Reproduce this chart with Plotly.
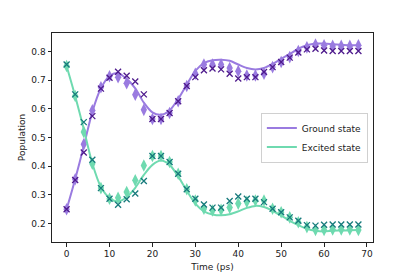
import plotly.graph_objects as go

time_ps = [0, 2, 4, 6, 8, 10, 12, 14, 16, 18, 20, 22, 24, 26, 28, 30, 32, 34,
           36, 38, 40, 42, 44, 46, 48, 50, 52, 54, 56, 58, 60, 62, 64, 66, 68]

ground_line = [0.25, 0.355, 0.47, 0.59, 0.672, 0.715, 0.725, 0.705, 0.672, 0.622, 0.588, 0.58,
               0.595, 0.635, 0.685, 0.733, 0.76, 0.77, 0.772, 0.768, 0.755, 0.743, 0.738, 0.743,
               0.757, 0.775, 0.792, 0.81, 0.822, 0.828, 0.828, 0.826, 0.824, 0.822, 0.822]
excited_line = [0.75, 0.645, 0.53, 0.41, 0.328, 0.29, 0.277, 0.293, 0.325, 0.37, 0.405, 0.42,
                0.405, 0.365, 0.315, 0.27, 0.243, 0.232, 0.229, 0.233, 0.243, 0.255, 0.262, 0.258,
                0.245, 0.228, 0.21, 0.195, 0.182, 0.175, 0.173, 0.175, 0.176, 0.177, 0.178]

ground_diamond = [0.25, 0.355, 0.477, 0.595, 0.676, 0.714, 0.711, 0.69, 0.65, 0.597, 0.565, 0.565,
                  0.586, 0.627, 0.68, 0.723, 0.755, 0.755, 0.755, 0.743, 0.732, 0.717, 0.717, 0.723,
                  0.746, 0.764, 0.781, 0.802, 0.815, 0.825, 0.822, 0.82, 0.82, 0.82, 0.822]
ground_cross = [0.25, 0.352, 0.448, 0.575, 0.671, 0.709, 0.73, 0.716, 0.696, 0.651, 0.565, 0.565,
                0.586, 0.627, 0.68, 0.711, 0.735, 0.741, 0.738, 0.723, 0.706, 0.711, 0.711, 0.729,
                0.746, 0.764, 0.779, 0.797, 0.808, 0.81, 0.804, 0.802, 0.802, 0.802, 0.802]

excited_diamond = [0.75, 0.645, 0.52, 0.409, 0.324, 0.287, 0.29, 0.31, 0.351, 0.403, 0.436, 0.436,
                   0.415, 0.374, 0.32, 0.281, 0.252, 0.246, 0.248, 0.256, 0.27, 0.276, 0.281, 0.281,
                   0.252, 0.24, 0.222, 0.205, 0.188, 0.178, 0.178, 0.18, 0.18, 0.18, 0.178]
excited_cross = [0.755, 0.651, 0.554, 0.423, 0.324, 0.287, 0.266, 0.285, 0.305, 0.349, 0.436, 0.436,
                 0.415, 0.374, 0.32, 0.287, 0.267, 0.256, 0.256, 0.279, 0.295, 0.287, 0.287, 0.275,
                 0.252, 0.24, 0.222, 0.21, 0.195, 0.193, 0.196, 0.197, 0.197, 0.197, 0.197]

PURPLE = "#9a7be0"
PURPLE_DARK = "#4e1a8c"
TEAL = "#6fdab0"
TEAL_DARK = "#177a7c"

fig = go.Figure()
fig.add_trace(go.Scatter(x=time_ps, y=ground_diamond, mode="markers", showlegend=False,
                         marker=dict(symbol="diamond-tall", size=9, color=PURPLE)))
fig.add_trace(go.Scatter(x=time_ps, y=excited_diamond, mode="markers", showlegend=False,
                         marker=dict(symbol="diamond-tall", size=9, color=TEAL)))
fig.add_trace(go.Scatter(x=time_ps, y=ground_line, mode="lines", name="Ground state",
                         line=dict(color=PURPLE, width=2, shape="spline", smoothing=0.8)))
fig.add_trace(go.Scatter(x=time_ps, y=excited_line, mode="lines", name="Excited state",
                         line=dict(color=TEAL, width=2, shape="spline", smoothing=0.8)))
fig.add_trace(go.Scatter(x=time_ps, y=ground_cross, mode="markers", showlegend=False,
                         marker=dict(symbol="x-thin", size=6, color=PURPLE_DARK,
                                     line=dict(width=1.3, color=PURPLE_DARK))))
fig.add_trace(go.Scatter(x=time_ps, y=excited_cross, mode="markers", showlegend=False,
                         marker=dict(symbol="x-thin", size=6, color=TEAL_DARK,
                                     line=dict(width=1.3, color=TEAL_DARK))))

axis_common = dict(showline=True, mirror=True, linecolor="#222", linewidth=1,
                   ticks="outside", ticklen=3.5, tickwidth=1, tickcolor="#222",
                   showgrid=False, zeroline=False, automargin=False,
                   tickfont=dict(family="DejaVu Sans", size=9, color="#222"))

# page body has an 8px default margin, so the figure is sized/offset to compensate
fig.update_layout(
    width=407, height=269,
    margin=dict(l=44, r=42, t=25, b=35, autoexpand=False),
    paper_bgcolor="white", plot_bgcolor="white",
    font=dict(family="DejaVu Sans", size=9, color="#222"),
    xaxis=dict(range=[-3.4, 71.4], tickmode="array", tickvals=[0, 10, 20, 30, 40, 50, 60, 70],
               title=dict(text="Time (ps)", standoff=5, font=dict(size=9)), **axis_common),
    yaxis=dict(range=[0.136, 0.865], tickmode="array",
               tickvals=[0.2, 0.3, 0.4, 0.5, 0.6, 0.7, 0.8], tickformat=".1f",
               title=dict(text="Population", standoff=4, font=dict(size=9)), **axis_common),
    legend=dict(x=0.984, y=0.5, xanchor="right", yanchor="middle",
                bgcolor="rgba(255,255,255,0.8)", bordercolor="#d0d0d0", borderwidth=1,
                font=dict(family="DejaVu Sans", size=9, color="#222"),
                itemwidth=30, tracegroupgap=0),
)

fig.write_html("out.html")
